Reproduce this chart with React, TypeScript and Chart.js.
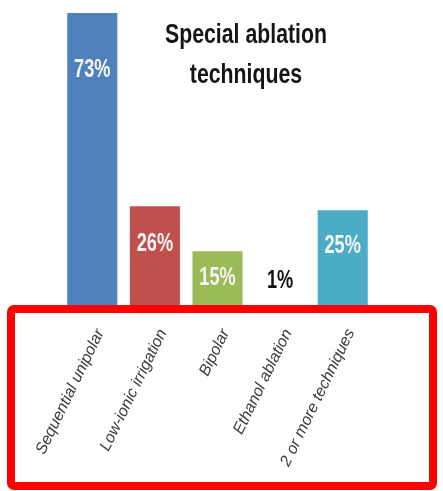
import React, { useEffect, useRef } from "react";
import { Chart, registerables } from "chart.js";

Chart.register(...registerables);

const categories = [
  "Sequential unipolar",
  "Low-ionic irrigation",
  "Bipolar",
  "Ethanol ablation",
  "2 or more techniques",
];
const values = [73, 26, 15, 1, 25];
const valueLabels = ["73%", "26%", "15%", "1%", "25%"];
const barColors = ["#4F81BD", "#C0504D", "#9BBB59", "#FFFFFF", "#4BACC6"];
const titleLines = ["Special ablation", "techniques"];

const SANS = "'Liberation Sans', Arial, sans-serif";

function drawSqueezed(ctx: any, text: string, x: number, y: number, sx: number) {
  ctx.save();
  ctx.translate(x, y);
  ctx.scale(sx, 1);
  ctx.fillText(text, 0, 0);
  ctx.restore();
}

const titlePlugin = {
  id: "customTitle",
  afterDraw(chart: any) {
    const ctx = chart.ctx;
    ctx.save();
    ctx.fillStyle = "#151515";
    ctx.font = `bold 28px ${SANS}`;
    ctx.textAlign = "center";
    ctx.textBaseline = "alphabetic";
    titleLines.forEach((line, i) => {
      drawSqueezed(ctx, line, 246, 43 + i * 40, 0.76);
    });
    ctx.restore();
  },
};

const valueLabelPlugin = {
  id: "valueLabels",
  afterDatasetsDraw(chart: any) {
    const ctx = chart.ctx;
    const meta = chart.getDatasetMeta(0);
    ctx.save();
    ctx.font = `bold 26px ${SANS}`;
    ctx.textAlign = "center";
    ctx.textBaseline = "middle";
    meta.data.forEach((bar: any, i: number) => {
      const h = bar.base - bar.y;
      let y: number;
      if (values[i] < 5) {
        ctx.fillStyle = "#111111";
        y = bar.y - 28;
      } else {
        ctx.fillStyle = "#F6F6F6";
        y = bar.y + Math.max(26, Math.min(h * 0.35, 57));
      }
      drawSqueezed(ctx, valueLabels[i], bar.x, y, 0.7);
    });
    ctx.restore();
  },
};

const framePlugin = {
  id: "frame",
  afterDraw(chart: any) {
    const ctx = chart.ctx;
    ctx.save();
    ctx.strokeStyle = "#FF0000";
    ctx.lineWidth = 8;
    ctx.lineJoin = "round";
    ctx.beginPath();
    if (ctx.roundRect) ctx.roundRect(11, 309, 422, 177, 3);
    else ctx.rect(11, 309, 422, 177);
    ctx.stroke();
    ctx.restore();
  },
};

export default function App() {
  const ref = useRef<HTMLCanvasElement>(null);
  useEffect(() => {
    document.body.style.margin = "0";
    const chart = new Chart(ref.current!, {
      type: "bar",
      data: {
        labels: categories,
        datasets: [
          {
            data: values,
            backgroundColor: barColors,
            barPercentage: 0.8,
            categoryPercentage: 1,
          },
        ],
      },
      options: {
        responsive: false,
        devicePixelRatio: 1,
        animation: false,
        layout: { padding: { left: 61, right: 69, top: 13, bottom: 0 } },
        plugins: {
          legend: { display: false },
          title: { display: false },
          tooltip: { enabled: false },
        },
        scales: {
          y: { display: false, min: 0, max: 73 },
          x: {
            grid: { display: false },
            border: { display: false },
            afterFit(scale: any) {
              scale.height = 178;
            },
            ticks: {
              minRotation: 64,
              maxRotation: 64,
              autoSkip: false,
              padding: 5,
              labelOffset: 8,
              color: "#3a3a3a",
              font: { family: SANS, size: 16, style: "italic" },
            },
          },
        },
      },
      plugins: [valueLabelPlugin, framePlugin, titlePlugin],
    });
    return () => chart.destroy();
  }, []);
  return (
    <div style={{ width: 443, height: 491, background: "#fff" }}>
      <canvas ref={ref} width={443} height={491} />
    </div>
  );
}
